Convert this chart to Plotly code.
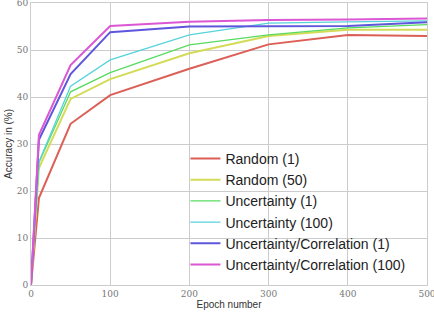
import plotly.graph_objects as go

epochs = [0, 10, 50, 100, 200, 300, 400, 500]

series_names = [
    "Random (1)",
    "Random (50)",
    "Uncertainty (1)",
    "Uncertainty (100)",
    "Uncertainty/Correlation (1)",
    "Uncertainty/Correlation (100)",
]
random_1 = [0, 18.5, 34.3, 40.4, 46.0, 51.2, 53.2, 53.0]
random_50 = [0, 24.9, 39.6, 43.8, 49.3, 53.0, 54.3, 54.3]
uncert_1 = [0, 26.0, 41.1, 45.2, 51.1, 53.2, 54.7, 55.4]
uncert_100 = [0, 26.2, 42.3, 47.9, 53.2, 55.7, 56.0, 56.2]
uc_1 = [0, 30.9, 44.9, 53.8, 55.0, 55.1, 55.1, 55.9]
uc_100 = [0, 31.9, 46.8, 55.1, 56.0, 56.4, 56.5, 56.7]
all_values = [random_1, random_50, uncert_1, uncert_100, uc_1, uc_100]

colors = ["#db5f57", "#d3db57", "#57db5f", "#57d3db", "#5f57db", "#db57d3"]
widths = [2, 2, 1.3, 1.3, 2, 2]

x_ticks = [0, 100, 200, 300, 400, 500]
y_ticks = [0, 10, 20, 30, 40, 50, 60]

fig = go.Figure()
for name, vals, c, w in zip(series_names, all_values, colors, widths):
    fig.add_trace(go.Scatter(x=epochs, y=vals, mode="lines", name=name,
                             line=dict(color=c, width=w)))

axis_common = dict(showgrid=True, gridcolor="#cccccc", gridwidth=1,
                   showline=True, linecolor="#cccccc", linewidth=1, mirror=True,
                   zeroline=False, ticks="", ticklabeloverflow="allow",
                   automargin=False,
                   tickfont=dict(family="DejaVu Serif", size=9, color="#777777"))

fig.update_xaxes(range=[0, 500], tickvals=x_ticks, **axis_common,
                 title=dict(text="Epoch number", font=dict(family="Liberation Sans", size=10, color="#333333"),
                            standoff=0))
fig.update_yaxes(range=[0, 60], tickvals=y_ticks, **axis_common,
                 title=dict(text="Accuracy in (%)", font=dict(family="Liberation Sans", size=10, color="#333333"),
                            standoff=2))

fig.update_layout(
    width=434, height=314,
    margin=dict(l=31, r=7, t=3, b=29),
    plot_bgcolor="white", paper_bgcolor="white",
    showlegend=True,
    legend=dict(x=0.39, y=0.504, xanchor="left", yanchor="top",
                bgcolor="rgba(0,0,0,0)",
                font=dict(family="Liberation Sans", size=14, color="#222222")),
)

fig.write_html("out.html", config={"displayModeBar": False},
               post_script="document.body.style.margin='0';document.body.style.overflow='hidden';")
